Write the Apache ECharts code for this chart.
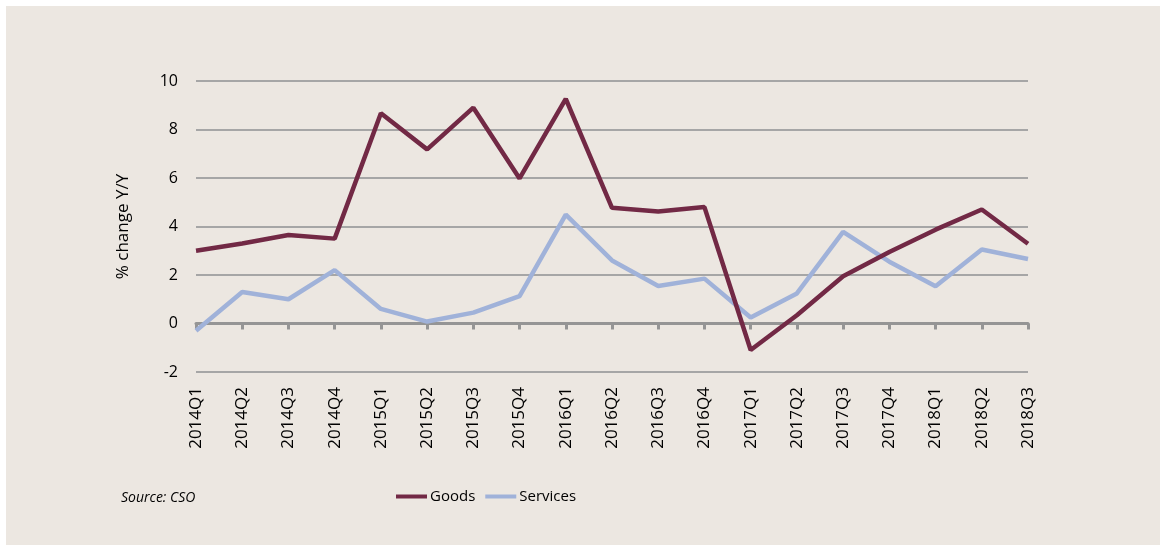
<!DOCTYPE html>
<html>
<head>
<meta charset="utf-8">
<script src="https://cdn.jsdelivr.net/npm/echarts@6/dist/echarts.min.js"></script>
<style>
html,body{margin:0;padding:0;background:#ffffff;}
#chart{position:absolute;left:6px;top:6px;width:1154px;height:539px;background:#ECE7E1;}
</style>
</head>
<body>
<div id="chart"></div>
<script>
const categories = ['2014Q1','2014Q2','2014Q3','2014Q4','2015Q1','2015Q2','2015Q3','2015Q4','2016Q1','2016Q2','2016Q3','2016Q4','2017Q1','2017Q2','2017Q3','2017Q4','2018Q1','2018Q2','2018Q3'];
const goods = [3.0, 3.3, 3.65, 3.5, 8.67, 7.18, 8.9, 5.98, 9.26, 4.77, 4.62, 4.8, -1.09, 0.34, 1.95, 2.95, 3.87, 4.7, 3.29];
const services = [-0.3, 1.3, 1.0, 2.2, 0.6, 0.08, 0.45, 1.13, 4.49, 2.6, 1.55, 1.85, 0.25, 1.24, 3.78, 2.55, 1.54, 3.05, 2.66];
const yTicks = {min: -2, max: 10, interval: 2};
const seriesNames = ['Goods', 'Services'];

const font = 'Open Sans, Liberation Sans, sans-serif';
const chart = echarts.init(document.getElementById('chart'), null, {renderer: 'canvas'});
chart.setOption({
  backgroundColor: '#ECE7E1',
  animation: false,
  grid: {left: 190, right: 132, top: 75, bottom: 173, containLabel: false},
  legend: {
    data: seriesNames,
    left: 385, top: 478,
    icon: 'rect', itemWidth: 31, itemHeight: 4, itemGap: 10,
    textStyle: {fontFamily: font, fontSize: 15, color: '#000', padding: [0,0,0,-2]}
  },
  graphic: [{
    type: 'text', left: 115, top: 485,
    style: {text: 'Source: CSO', font: 'italic 14px ' + font, fill: '#000'}
  }],
  xAxis: [{
    type: 'category', data: categories, boundaryGap: false,
    axisLine: {show: false, onZero: false}, axisTick: {show: false},
    axisLabel: {rotate: 90, margin: 15, fontFamily: font, fontSize: 17, color: '#000', interval: 0},
    splitLine: {show: false}
  }, {
    type: 'category', data: categories, boundaryGap: false, position: 'bottom',
    axisLine: {show: true, onZero: true, lineStyle: {color: '#959595', width: 3}},
    axisTick: {show: true, length: 6, alignWithLabel: true, interval: 0, lineStyle: {color: '#959595', width: 3}},
    axisLabel: {show: false}, splitLine: {show: false}
  }],
  yAxis: {
    type: 'value', min: yTicks.min, max: yTicks.max, interval: yTicks.interval,
    name: '% change Y/Y', nameLocation: 'middle', nameGap: 64, nameRotate: 90,
    nameTextStyle: {fontFamily: font, fontSize: 17, color: '#000'},
    axisLine: {show: false}, axisTick: {show: false},
    axisLabel: {margin: 18, fontFamily: font, fontSize: 16, color: '#000'},
    splitLine: {show: true, lineStyle: {color: '#A6A6A6', width: 2}}
  },
  series: [{
    name: seriesNames[0], type: 'line', data: goods, xAxisIndex: 0,
    showSymbol: false, symbol: 'none', color: '#722945',
    lineStyle: {color: '#722945', width: 4.5}, z: 3
  }, {
    name: seriesNames[1], type: 'line', data: services, xAxisIndex: 0,
    showSymbol: false, symbol: 'none', color: '#A0B2D9',
    lineStyle: {color: '#A0B2D9', width: 4.5}, z: 2
  }]
});
</script>
</body>
</html>
